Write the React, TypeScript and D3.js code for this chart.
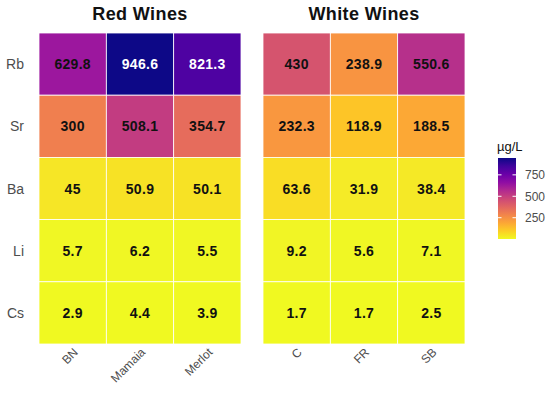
import React, { useEffect, useRef } from 'react';
import * as d3 from 'd3';

const elements = ['Rb', 'Sr', 'Ba', 'Li', 'Cs'];
const redWines = ['BN', 'Mamaia', 'Merlot'];
const whiteWines = ['C', 'FR', 'SB'];

// values per element (rows), per wine (columns)
const redValues = [
  [629.8, 946.6, 821.3],
  [300, 508.1, 354.7],
  [45, 50.9, 50.1],
  [5.7, 6.2, 5.5],
  [2.9, 4.4, 3.9],
];
const whiteValues = [
  [430, 238.9, 550.6],
  [232.3, 118.9, 188.5],
  [63.6, 31.9, 38.4],
  [9.2, 5.6, 7.1],
  [1.7, 1.7, 2.5],
];
const legendTicks = [250, 500, 750];

const App: React.FC = () => {
  const svgRef = useRef<SVGSVGElement>(null);

  useEffect(() => {
    if (!svgRef.current) return;
    const svg = d3.select(svgRef.current);
    svg.selectAll('*').remove();

    const font = 'Liberation Sans, Arial, sans-serif';
    const all = [...redValues.flat(), ...whiteValues.flat()];
    const [vmin, vmax] = d3.extent(all) as [number, number];
    const color = d3.scaleSequential((t) => d3.interpolatePlasma(1 - t)).domain([vmin, vmax]);

    const y = d3.scaleBand().domain(elements).range([33, 344]).padding(0);

    const panels = [
      { title: 'Red Wines', wines: redWines, values: redValues, x0: 39, x1: 241 },
      { title: 'White Wines', wines: whiteWines, values: whiteValues, x0: 263, x1: 465 },
    ];

    panels.forEach((p) => {
      const x = d3.scaleBand().domain(p.wines).range([p.x0, p.x1]);
      const g = svg.append('g');

      g.append('text')
        .attr('x', (p.x0 + p.x1) / 2)
        .attr('y', 20)
        .attr('text-anchor', 'middle')
        .style('font-family', font)
        .style('font-size', '18px')
        .style('letter-spacing', '0.4px')
        .style('font-weight', 'bold')
        .style('fill', '#111')
        .text(p.title);

      const cells = elements.flatMap((el, i) =>
        p.wines.map((w, j) => ({ el, w, v: p.values[i][j] }))
      );

      g.selectAll('rect')
        .data(cells)
        .enter()
        .append('rect')
        .attr('x', (d) => x(d.w)!)
        .attr('y', (d) => y(d.el)!)
        .attr('width', x.bandwidth())
        .attr('height', y.bandwidth())
        .attr('fill', (d) => color(d.v))
        .attr('stroke', '#fff')
        .attr('stroke-width', 0.8);

      g.selectAll('text.val')
        .data(cells)
        .enter()
        .append('text')
        .attr('class', 'val')
        .attr('x', (d) => x(d.w)! + x.bandwidth() / 2)
        .attr('y', (d) => y(d.el)! + y.bandwidth() / 2)
        .attr('dy', '0.36em')
        .attr('text-anchor', 'middle')
        .style('font-family', font)
        .style('font-size', '14px')
        .style('letter-spacing', '0.3px')
        .style('font-weight', 'bold')
        .style('fill', (d) => (d.v > 700 ? '#fff' : '#111'))
        .text((d) => String(d.v));

      // x tick labels, rotated 45
      g.selectAll('text.xt')
        .data(p.wines)
        .enter()
        .append('text')
        .attr('class', 'xt')
        .attr(
          'transform',
          (d) => `translate(${x(d)! + x.bandwidth() / 2 + 6},${353}) rotate(-45)`
        )
        .attr('text-anchor', 'end')
        .style('font-family', font)
        .style('font-size', '12px')
        .style('fill', '#4d4d4d')
        .text((d) => d);
    });

    // y tick labels
    svg.selectAll('text.yt')
      .data(elements)
      .enter()
      .append('text')
      .attr('class', 'yt')
      .attr('x', 24)
      .attr('y', (d) => y(d)! + y.bandwidth() / 2)
      .attr('dy', '0.36em')
      .attr('text-anchor', 'end')
      .style('font-family', font)
      .style('font-size', '14px')
      .style('fill', '#4d4d4d')
      .text((d) => d);

    // legend
    const lx = 498;
    const lw = 18;
    const ly = d3.scaleLinear().domain([vmin, vmax]).range([239, 158]);
    const defs = svg.append('defs');
    const grad = defs
      .append('linearGradient')
      .attr('id', 'lg')
      .attr('x1', 0)
      .attr('y1', 1)
      .attr('x2', 0)
      .attr('y2', 0);
    d3.range(0, 1.0001, 0.1).forEach((t) => {
      grad.append('stop').attr('offset', t).attr('stop-color', color(vmin + t * (vmax - vmin)));
    });
    svg.append('rect')
      .attr('x', lx)
      .attr('y', ly(vmax))
      .attr('width', lw)
      .attr('height', ly(vmin) - ly(vmax))
      .attr('fill', 'url(#lg)');

    svg.append('text')
      .attr('x', lx - 1)
      .attr('y', 151)
      .style('font-family', font)
      .style('font-size', '13px')
      .style('fill', '#111')
      .text('µg/L');

    const lt = svg.append('g');
    legendTicks.forEach((t) => {
      lt.append('line')
        .attr('x1', lx).attr('x2', lx + 3.5)
        .attr('y1', ly(t)).attr('y2', ly(t))
        .attr('stroke', '#fff').attr('stroke-width', 1);
      lt.append('line')
        .attr('x1', lx + lw - 3.5).attr('x2', lx + lw)
        .attr('y1', ly(t)).attr('y2', ly(t))
        .attr('stroke', '#fff').attr('stroke-width', 1);
      lt.append('text')
        .attr('x', lx + lw + 9)
        .attr('y', ly(t))
        .attr('dy', '0.36em')
        .style('font-family', font)
        .style('font-size', '12px')
        .style('fill', '#4d4d4d')
        .text(String(t));
    });
  }, []);

  return <svg ref={svgRef} width={550} height={399} style={{ display: 'block', position: 'absolute', left: 0, top: 0 }} />;
};

export default App;
